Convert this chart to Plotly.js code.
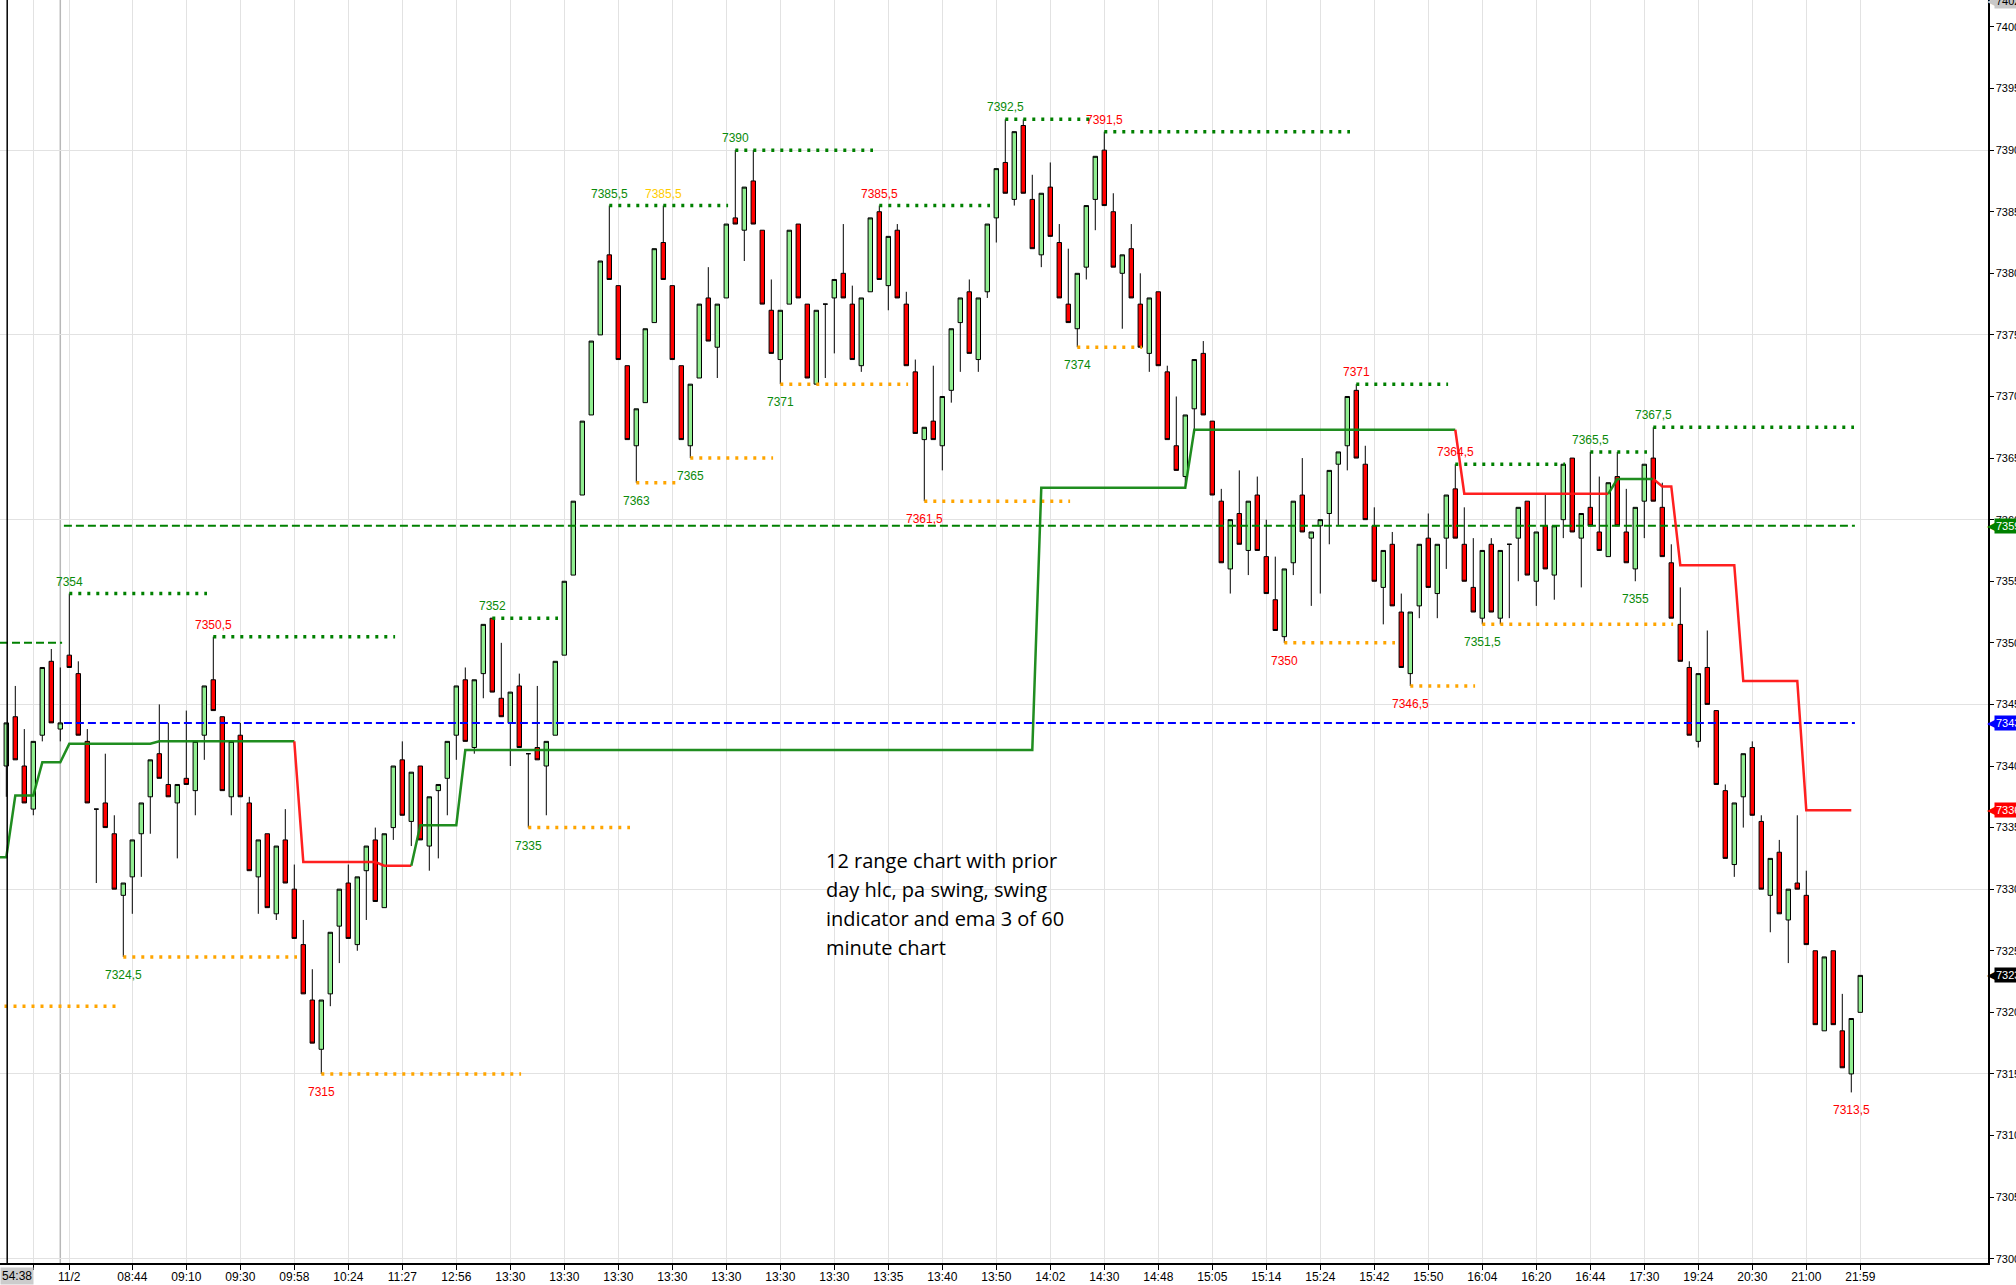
<!DOCTYPE html>
<html>
<head>
<meta charset="utf-8">
<script src="https://cdn.plot.ly/plotly-3.0.1.min.js"></script>
<style>html,body{margin:0;padding:0;background:#fff;}#chart{width:2016px;height:1285px;}</style>
</head>
<body>
<div id="chart"></div>
<script>
// ---------- range bars (12 ticks) ----------
const opens = [7339.5,7340,7344,7340,7336.5,7342.5,7348.5,7343,7349,7347.5,7342,7336.5,7337,7334.5,7329.5,7331,7334.5,7337.5,7341,7338.5,
7337,7339,7338,7342.5,7347,7344,7337.5,7342.5,7337,7331,7334.5,7328,7334,7330,7325.5,7321,7317,7321.5,7327,7330.5,
7325.5,7331.5,7334,7328.5,7335,7340.5,7335.5,7340,7333.5,7338,7339,7342.5,7347,7341.5,7347.5,7352,7345.5,7343.5,7346.5,7341,
7341.5,7340,7342.5,7349,7355.5,7362,7368.5,7375,7381.5,7379,7372.5,7366,7369.5,7376,7382.5,7379,7372.5,7366,7371.5,7378,
7374,7378,7384.5,7383.5,7387.5,7383.5,7377,7373,7377.5,7384,7377.5,7371,7377.5,7378,7380,7377.5,7372.5,7378.5,7385,7379,
7383.5,7377.5,7372,7366.5,7368,7366,7370.5,7376,7378.5,7373,7378.5,7384.5,7389,7386,7392,7386,7381.5,7387,7382.5,7377.5,
7375.5,7380.5,7386,7390,7385,7380,7382,7377.5,7373.5,7378.5,7372,7366,7363.5,7369,7373.5,7368,7361.5,7356,7360.5,7357.5,
7362,7357,7353.5,7350.5,7356.5,7362,7358.5,7359.5,7360.5,7364.5,7366,7370.5,7364.5,7359.5,7354.5,7358,7352.5,7347.5,7353,7358.5,
7354,7358.5,7362.5,7358,7354.5,7352,7358,7352,7358,7358.5,7361.5,7355,7359.5,7355.5,7360,7365,7358.5,7361,7359,7357,
7363.5,7359,7356,7361.5,7365,7361,7356.5,7351.5,7348,7342,7348,7344.5,7338,7332,7337.5,7341.5,7335.5,7329.5,7333,7327.5,
7330.5,7329.5,7325,7318.5,7325,7318.5,7315,7320];
const highs = [7343.5,7343.5,7346.5,7343,7342,7348,7349.5,7348,7354,7348.5,7343,7336.5,7341,7336,7330.5,7334,7337,7340.5,7345,7343.5,
7338.5,7344.5,7342,7346.5,7350.5,7344,7342,7343.5,7337.5,7334,7334.5,7333.5,7336.5,7332,7327.5,7323.5,7321,7326.5,7330,7332,
7331,7333.5,7335,7334.5,7340,7342,7339.5,7340,7337.5,7338.5,7342,7346.5,7348,7347,7351.5,7352,7350,7346,7347.5,7341,
7346.5,7342,7348.5,7355,7361.5,7368,7374.5,7381,7385.5,7379,7372.5,7369,7375.5,7382,7385.5,7379,7372.5,7371,7377.5,7380.5,
7377.5,7384,7390,7387,7390,7383.5,7379.5,7377,7383.5,7384,7377.5,7377,7377.5,7379.5,7384,7379,7378,7384.5,7385.5,7383,
7384,7378.5,7373,7367.5,7372.5,7370,7375.5,7378,7379.5,7378,7384,7388.5,7392.5,7391.5,7392.5,7388,7386.5,7389,7384,7382,
7380,7385.5,7389.5,7391.5,7386.5,7381.5,7384,7380,7378,7378.5,7372.5,7370,7368.5,7373,7374.5,7368,7362.5,7360,7364,7361.5,
7363.5,7360,7357,7356,7361.5,7365,7359,7360,7364,7365.5,7370,7371,7366,7361,7357.5,7359,7354,7352.5,7358,7360.5,
7358,7362,7364.5,7361,7358.5,7357.5,7358.5,7357.5,7358,7361,7361.5,7359,7362,7359.5,7364.5,7365,7360.5,7365.5,7363.5,7363,
7365.5,7362.5,7361,7364.5,7367.5,7363,7358,7354.5,7348.5,7347.5,7351,7344.5,7338.5,7337,7341,7342,7336,7332.5,7334,7330,
7336,7331.5,7325,7324.5,7325,7321.5,7319.5,7323];
const lows = [7337.5,7337.5,7340.5,7337,7336,7342,7343.5,7342,7348,7342.5,7337,7330.5,7335,7330,7324.5,7328,7331,7334.5,7339,7337.5,
7332.5,7338.5,7336,7340.5,7344.5,7338,7336,7337.5,7331.5,7328,7328.5,7327.5,7330.5,7326,7321.5,7317.5,7315,7320.5,7324,7326,
7325,7327.5,7329,7328.5,7334,7336,7333.5,7334,7331.5,7332.5,7336,7340.5,7342,7341,7345.5,7346,7344,7340,7341.5,7335,
7340.5,7336,7342.5,7349,7355.5,7362,7368.5,7375,7379.5,7373,7366.5,7363,7369.5,7376,7379.5,7373,7366.5,7365,7371.5,7374.5,
7371.5,7378,7384,7381,7384,7377.5,7373.5,7371,7377.5,7378,7371.5,7371,7371.5,7373.5,7378,7373,7372,7378.5,7379.5,7377,
7378,7372.5,7367,7361.5,7366.5,7364,7369.5,7372,7373.5,7372,7378,7382.5,7386.5,7385.5,7386.5,7382,7380.5,7383,7378,7376,
7374,7379.5,7383.5,7385.5,7380.5,7375.5,7378,7374,7372,7372.5,7366.5,7364,7362.5,7367,7368.5,7362,7356.5,7354,7358,7355.5,
7357.5,7354,7351,7350,7355.5,7359,7353,7354,7358,7359.5,7364,7365,7360,7355,7351.5,7353,7348,7346.5,7352,7354.5,
7352,7356,7358.5,7355,7352.5,7351.5,7352.5,7351.5,7352,7355,7355.5,7353,7356,7353.5,7358.5,7359,7354.5,7359.5,7357.5,7357,
7359.5,7356.5,7355,7358.5,7361.5,7357,7352,7348.5,7342.5,7341.5,7345,7338.5,7332.5,7331,7335,7336,7330,7326.5,7328,7324,
7330,7325.5,7319,7318.5,7319,7315.5,7313.5,7320];
const closes = [7337.5,7343.5,7340.5,7337,7342,7348,7343.5,7343.5,7348,7342.5,7337,7336.5,7335,7330,7330.5,7334,7337,7340.5,7339,7337.5,
7338.5,7338.5,7342,7346.5,7344.5,7338,7342,7337.5,7331.5,7334,7328.5,7333.5,7330.5,7326,7321.5,7317.5,7321,7326.5,7330,7326,
7331,7333.5,7329,7334.5,7340,7336,7339.5,7334,7337.5,7338.5,7342,7346.5,7342,7347,7351.5,7346,7344,7346,7341.5,7341,
7340.5,7342,7348.5,7355,7361.5,7368,7374.5,7381,7379.5,7373,7366.5,7369,7375.5,7382,7379.5,7373,7366.5,7371,7377.5,7374.5,
7377.5,7384,7384,7387,7384,7377.5,7373.5,7377,7383.5,7378,7371.5,7377,7377.5,7379.5,7378,7373,7378,7384.5,7379.5,7383,
7378,7372.5,7367,7367.5,7366.5,7370,7375.5,7378,7373.5,7378,7384,7388.5,7386.5,7391.5,7386.5,7382,7386.5,7383,7378,7376,
7380,7385.5,7389.5,7385.5,7380.5,7381.5,7378,7374,7378,7372.5,7366.5,7364,7368.5,7373,7368.5,7362,7356.5,7360,7358,7361.5,
7357.5,7354,7351,7356,7361.5,7359,7359,7360,7364,7365.5,7370,7365,7360,7355,7357.5,7353,7348,7352.5,7358,7354.5,
7358,7362,7358.5,7355,7352.5,7357.5,7352.5,7357.5,7358,7361,7355.5,7359,7356,7359.5,7364.5,7359,7360.5,7359.5,7357.5,7363,
7359.5,7356.5,7361,7364.5,7361.5,7357,7352,7348.5,7342.5,7347.5,7345,7338.5,7332.5,7337,7341,7336,7330,7332.5,7328,7330,
7330,7325.5,7319,7324.5,7319,7315.5,7319.5,7323];
const barIndex = opens.map((_, i) => i);

// ---------- x axis labels ----------
const xTickIndex = [4, 8, 15, 21, 27, 33, 39, 45, 51, 57, 63, 69, 75, 81, 87, 93, 99, 105, 111, 117, 123, 129, 135, 141, 147, 153, 159, 165, 171, 177, 183, 189, 195, 201, 207];
const xTickText = ['', '11/2', '08:44', '09:10', '09:30', '09:58', '10:24', '11:27', '12:56', '13:30', '13:30', '13:30', '13:30', '13:30', '13:30', '13:30', '13:35', '13:40', '13:50', '14:02', '14:30', '14:48', '15:05', '15:14', '15:24', '15:42', '15:50', '16:04', '16:20', '16:44', '17:30', '19:24', '20:30', '21:00', '21:59'];
const daySeparatorIndex = 7;
const sessionLineIndex = 1.1;
const cursorTimeText = '54:38';

// ---------- prior day levels (dashed) ----------
const priorLevelPrice = [7359.5, 7343.5, 7350];
const priorLevelStart = [7.4, 7.4, 0.3];
const priorLevelEnd = [206.4, 206.4, 7.2];
const priorLevelColor = ['#008000', '#0000ff', '#008000'];

// ---------- PA swing highs / lows (dotted) ----------
const swingHighPrice = [7354, 7350.5, 7352, 7385.5, 7385.5, 7390, 7385.5, 7392.5, 7391.5, 7371, 7364.5, 7365.5, 7367.5];
const swingHighStart = [8, 24, 55, 68, 74, 82, 98, 112, 123, 151, 162, 177, 184];
const swingHighEnd = [23.3, 44.2, 62.3, 74, 81.2, 97.3, 110.3, 121.5, 150.3, 161.2, 174.2, 183.3, 206.3];
const swingHighLabelColor = ['#0a8a0a', '#ff0000', '#0a8a0a', '#0a8a0a', '#ffcc00', '#0a8a0a', '#ff0000', '#0a8a0a', '#ff0000', '#ff0000', '#ff0000', '#0a8a0a', '#0a8a0a'];

const swingLowPrice = [7320.5, 7324.5, 7315, 7335, 7363, 7365, 7371, 7361.5, 7374, 7350, 7346.5, 7351.5];
const swingLowStart = [0.8, 14, 36, 59, 71, 77, 87, 103, 120, 143, 157, 165];
const swingLowEnd = [13.3, 33.3, 58.2, 70.3, 76, 86.2, 101.2, 119.2, 127.2, 155.3, 164.2, 186.2];
const swingLowLabelColor = [null, '#0a8a0a', '#ff0000', '#0a8a0a', '#0a8a0a', '#0a8a0a', '#0a8a0a', '#ff0000', '#0a8a0a', '#ff0000', '#ff0000', '#0a8a0a'];

// labels without line
const extraLowLabelIndex = [182, 206];
const extraLowLabelPrice = [7355, 7313.5];
const extraLowLabelColor = ['#0a8a0a', '#ff0000'];

// ---------- swing indicator / ema step line ----------
const indicatorX = [0.3, 1, 2, 4, 5, 7, 8, 17, 18, 33, 34, 42, 43, 46, 47, 51, 52, 115, 116, 132, 133, 162, 163, 179, 180, 184, 185, 186, 187, 193, 194, 200, 201, 206];
const indicatorY = [7332.6, 7332.6, 7337.6, 7337.6, 7340.3, 7340.3, 7341.8, 7341.8, 7342.0, 7342.0, 7332.2, 7332.2, 7331.9, 7331.9, 7335.2, 7335.2, 7341.3, 7341.3, 7362.6, 7362.6, 7367.3, 7367.3, 7362.1, 7362.1, 7363.3, 7363.3, 7362.7, 7362.7, 7356.3, 7356.3, 7346.9, 7346.9, 7336.4, 7336.4];
const indicatorUp = [1, 1, 1, 1, 1, 1, 1, 1, 1, 1, 0, 0, 0, 0, 1, 1, 1, 1, 1, 1, 1, 1, 0, 0, 1, 1, 0, 0, 0, 0, 0, 0, 0, 0];

// ---------- right price tags ----------
const tagPrice = [7402.1, 7359.5, 7343.5, 7336.4, 7323];
const tagText = ['7402,1', '7359,5', '7343,5', '7336,4', '7323'];
const tagColor = ['#c8c8c8', '#008000', '#0000ff', '#ff0000', '#000000'];
const tagFont = ['#000000', '#ffffff', '#ffffff', '#ffffff', '#ffffff'];

const noteLines = ['12 range chart with prior', 'day hlc, pa swing, swing', 'indicator and ema 3 of 60', 'minute chart'];

// ---------- build ----------
const yRange = [7299.65, 7402.19];
const xRange = [0.3, 221.19];
const fmt = v => String(v).replace('.', ',');
const FONT = 'Liberation Sans, Arial, sans-serif';

const traces = [];
traces.push({
  type: 'candlestick', x: barIndex, open: opens, high: highs, low: lows, close: closes,
  increasing: {line: {color: '#000000', width: 1}, fillcolor: '#90ee90'},
  decreasing: {line: {color: '#000000', width: 1}, fillcolor: '#ff0000'},
  whiskerwidth: 0, hoverinfo: 'skip', showlegend: false
});
// dummy for horizontal grid axis
traces.push({type: 'scatter', x: [barIndex[0]], y: [closes[0]], yaxis: 'y2', mode: 'markers', marker: {opacity: 0}, hoverinfo: 'skip', showlegend: false});

function segTrace(starts, ends, prices, color, width, dash) {
  const xs = [], ys = [];
  starts.forEach((s, k) => { xs.push(s, ends[k], null); ys.push(prices[k], prices[k], null); });
  return {type: 'scatter', mode: 'lines', x: xs, y: ys, line: {color, width, dash}, hoverinfo: 'skip', showlegend: false, connectgaps: false};
}
// prior day levels
priorLevelPrice.forEach((p, k) => traces.push(segTrace([priorLevelStart[k]], [priorLevelEnd[k]], [p], priorLevelColor[k], 2, '8px,4px')));
// swing lines
traces.push(segTrace(swingHighStart, swingHighEnd, swingHighPrice, '#008000', 3.5, '3px,6px'));
traces.push(segTrace(swingLowStart, swingLowEnd, swingLowPrice, '#ffa500', 3.5, '3px,6px'));

// indicator step line split by trend
let run = {x: [indicatorX[0]], y: [indicatorY[0]], up: indicatorUp[1]};
const runs = [];
for (let k = 1; k < indicatorX.length; k++) {
  if (indicatorUp[k] !== run.up) {
    runs.push(run);
    run = {x: [indicatorX[k - 1]], y: [indicatorY[k - 1]], up: indicatorUp[k]};
  }
  run.x.push(indicatorX[k]); run.y.push(indicatorY[k]);
}
runs.push(run);
runs.forEach(r => traces.push({type: 'scatter', mode: 'lines', x: r.x, y: r.y,
  line: {color: r.up ? 'rgba(20,135,20,0.95)' : 'rgba(255,20,20,0.95)', width: 2.5},
  hoverinfo: 'skip', showlegend: false}));

// ---------- annotations ----------
const annotations = [];
swingHighPrice.forEach((p, k) => {
  if (!swingHighLabelColor[k]) return;
  annotations.push({x: swingHighStart[k], y: p, xref: 'x', yref: 'y', text: fmt(p), showarrow: false,
    xanchor: 'center', yanchor: 'bottom', yshift: 3, font: {family: FONT, size: 12, color: swingHighLabelColor[k]}});
});
swingLowPrice.forEach((p, k) => {
  if (!swingLowLabelColor[k]) return;
  annotations.push({x: swingLowStart[k], y: p, xref: 'x', yref: 'y', text: fmt(p), showarrow: false,
    xanchor: 'center', yanchor: 'top', yshift: -9, font: {family: FONT, size: 12, color: swingLowLabelColor[k]}});
});
extraLowLabelPrice.forEach((p, k) => {
  annotations.push({x: extraLowLabelIndex[k], y: p, xref: 'x', yref: 'y', text: fmt(p), showarrow: false,
    xanchor: 'center', yanchor: 'top', yshift: -9, font: {family: FONT, size: 12, color: extraLowLabelColor[k]}});
});
noteLines.forEach((t, k) => {
  annotations.push({x: 91.9, y: 7332.3, xref: 'x', yref: 'y', text: t, showarrow: false,
    xanchor: 'left', yanchor: 'middle', yshift: -29 * k, font: {family: 'Open Sans, sans-serif', size: 20, color: '#000'}});
});
tagPrice.forEach((p, k) => {
  annotations.push({x: 1, y: p, xref: 'paper', yref: 'y', text: '\u25C0', showarrow: false, xanchor: 'left', yanchor: 'middle',
    xshift: -3, font: {family: 'DejaVu Sans', size: 12, color: tagColor[k]}});
  annotations.push({x: 1, y: p, xref: 'paper', yref: 'y', text: tagText[k], showarrow: false, xanchor: 'left', yanchor: 'middle',
    xshift: 6, bgcolor: tagColor[k], borderpad: 1, font: {family: FONT, size: 11, color: tagFont[k]}});
});
annotations.push({x: 0, y: 0, xref: 'paper', yref: 'paper', text: cursorTimeText, showarrow: false, xanchor: 'left', yanchor: 'top',
  yshift: -4, bgcolor: '#cccccc', borderpad: 1, font: {family: FONT, size: 12, color: '#000'}});

const shapes = [
  {type: 'line', xref: 'x', yref: 'paper', x0: daySeparatorIndex, x1: daySeparatorIndex, y0: 0, y1: 1, line: {color: '#b8b8b8', width: 1.5}, layer: 'below'},
  {type: 'line', xref: 'x', yref: 'paper', x0: sessionLineIndex, x1: sessionLineIndex, y0: 0, y1: 1, line: {color: '#000000', width: 1.5}, layer: 'above'}
];

const layout = {
  width: 2016, height: 1285,
  margin: {l: 0, r: 28, t: 0, b: 22, pad: 0},
  paper_bgcolor: '#ffffff', plot_bgcolor: '#ffffff',
  showlegend: false, hovermode: false, dragmode: false,
  boxgap: 0.3,
  xaxis: {range: xRange, tickmode: 'array', tickvals: xTickIndex, ticktext: xTickText,
    ticks: 'outside', ticklen: 5, tickcolor: '#000', tickwidth: 1, ticklabelstandoff: -3,
    showgrid: true, gridcolor: '#e2e2e2', gridwidth: 1, zeroline: false,
    showline: true, linecolor: '#000', linewidth: 1.5,
    tickfont: {family: FONT, size: 12, color: '#000'}, rangeslider: {visible: false}, fixedrange: true},
  yaxis: {range: yRange, side: 'right', tick0: 7300, dtick: 5, ticks: 'outside', ticklen: 4, tickcolor: '#000',
    showgrid: false, zeroline: false, showline: true, linecolor: '#000', linewidth: 1.5,
    tickfont: {family: FONT, size: 11, color: '#000'}, fixedrange: true},
  yaxis2: {range: yRange, overlaying: 'y', side: 'right', tick0: 7300, dtick: 15, showgrid: true, gridcolor: '#e2e2e2',
    showticklabels: false, ticks: '', showline: false, zeroline: false, fixedrange: true},
  annotations, shapes
};

Plotly.newPlot('chart', traces, layout, {staticPlot: true, displayModeBar: false});
</script>
</body>
</html>
